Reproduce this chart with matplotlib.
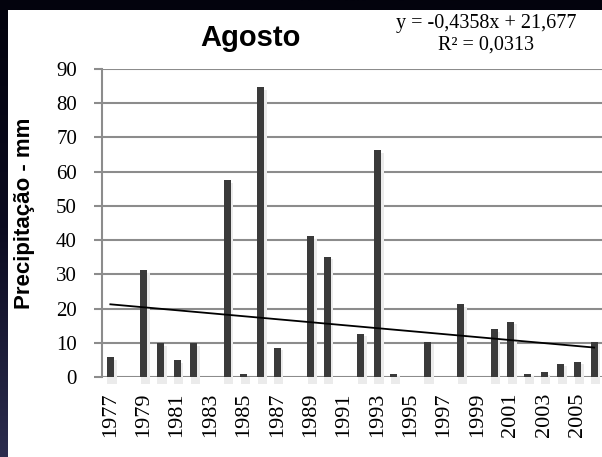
import numpy as np
import matplotlib
matplotlib.use('Agg')
import matplotlib.pyplot as plt
from matplotlib.patches import Rectangle
from matplotlib.colors import LinearSegmentedColormap

# August precipitation per year (mm)
years = list(range(1977, 2007))
precip = [5.8, 0, 31.2, 10.0, 5.0, 10.0, 0, 57.5, 0.8, 84.7,
          8.6, 0, 41.1, 35.2, 0, 12.7, 66.2, 1.0, 0, 10.3,
          0, 21.4, 0, 13.9, 16.2, 1.0, 1.5, 3.9, 4.5, 10.3]
tick_years = years[::2]

# linear trendline as printed on the chart
slope = -0.4358
intercept = 21.677
equation = 'y = -0,4358x + 21,677\nR² = 0,0313'

fig = plt.figure(figsize=(6.02, 4.57), dpi=100)

# dark gradient background
bg = fig.add_axes([0, 0, 1, 1], zorder=-10)
grad = np.linspace(0, 1, 256).reshape(-1, 1)
cmap = LinearSegmentedColormap.from_list('bg', ['#03030d', '#0b0b20', '#2c2d4e'])
bg.imshow(grad, aspect='auto', cmap=cmap, extent=[0, 1, 0, 1], origin='upper')
bg.axis('off')

# white panel
fig.patches.append(Rectangle((8 / 602, 0), 1, 1 - 10 / 457, transform=fig.transFigure,
                             facecolor='white', edgecolor='none', zorder=-5))

ax = fig.add_axes([102 / 602, 1 - 377 / 457, 500.5 / 602, (377 - 69) / 457])
ax.set_facecolor('none')

x = np.arange(len(years))
# soft shadow under/behind the bars
vals = np.array(precip)
ax.bar(x + 0.1, np.where(vals > 0, vals + 1.2, 0), width=0.55, bottom=-2.0,
       color='#ebebeb', zorder=2, clip_on=False)
ax.bar(x, precip, width=0.42, color='#3a3a3a', zorder=3)

trend = slope * (x + 1) + intercept
ax.plot(x, trend, color='black', lw=1.3, zorder=4)

ax.set_xlim(-0.5, len(years) - 0.5)
ax.set_ylim(0, 90)
ax.set_yticks(range(0, 91, 10))
ax.grid(axis='y', color='#8c8c8c', lw=1.5, zorder=1)
ax.set_axisbelow(True)

ax.set_xticks(x[::2])
ax.set_xticklabels([str(y) for y in tick_years], rotation=90,
                   family='Liberation Serif', fontsize=16)
for lbl in ax.get_yticklabels():
    lbl.set_family('Liberation Serif')
    lbl.set_fontsize(15)

ax.tick_params(axis='x', length=0, pad=11)
ax.tick_params(axis='y', length=6, width=1.5, color='#8c8c8c', pad=12)
for s in ['top', 'right', 'bottom']:
    ax.spines[s].set_visible(False)
ax.spines['left'].set_color('#8c8c8c')
ax.spines['left'].set_linewidth(1.5)

fig.text(250 / 602, 1 - 46 / 457, 'Agosto', ha='center', va='baseline',
         family='Liberation Sans', fontweight='bold', fontsize=21)
fig.text(486 / 602, 1 - 34 / 457, equation, ha='center', va='center',
         multialignment='center', family='Liberation Serif', fontsize=14.5, linespacing=1.15)
fig.text(25 / 602, 1 - 213 / 457, 'Precipitação - mm', ha='center', va='center',
         rotation=90, family='Liberation Sans', fontweight='bold', fontsize=16)

fig.savefig('out.png', dpi=100)
